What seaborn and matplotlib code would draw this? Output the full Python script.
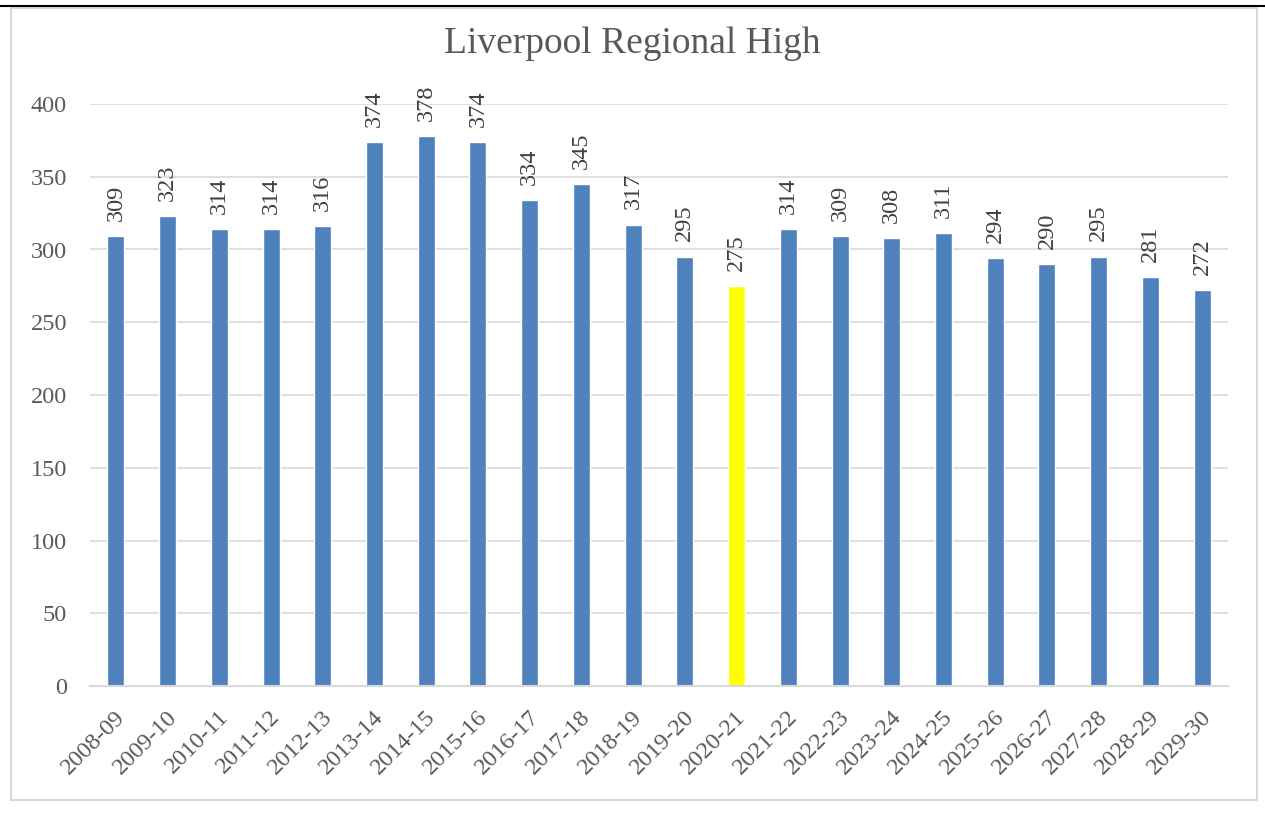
import matplotlib
matplotlib.use('Agg')
import matplotlib.pyplot as plt
import matplotlib.transforms as mtransforms
import pandas as pd
import seaborn as sns
from matplotlib.patches import Rectangle
from matplotlib.lines import Line2D

# chart data
years = ['2008-09', '2009-10', '2010-11', '2011-12', '2012-13', '2013-14',
         '2014-15', '2015-16', '2016-17', '2017-18', '2018-19', '2019-20',
         '2020-21', '2021-22', '2022-23', '2023-24', '2024-25', '2025-26',
         '2026-27', '2027-28', '2028-29', '2029-30']
values = [309, 323, 314, 314, 316, 374, 378, 374, 334, 345, 317, 295,
          275, 314, 309, 308, 311, 294, 290, 295, 281, 272]
highlight_year = '2020-21'

sns.set_theme(style='white')
plt.rcParams['font.family'] = ['Liberation Serif', 'DejaVu Serif']

df = pd.DataFrame({'year': years, 'value': values})
palette = {y: ('#FFFF00' if y == highlight_year else '#4F81BD') for y in years}

fig = plt.figure(figsize=(12.65, 8.21), dpi=100)
ax = fig.add_axes([90 / 1265, 1 - 686 / 821, 1138 / 1265, 582 / 821])

sns.barplot(data=df, x='year', y='value', hue='year', palette=palette,
            width=0.33, saturation=1, legend=False, ax=ax)

ax.set_ylim(0, 400)
ax.set_xlim(-0.5, len(years) - 0.5)
ax.set_yticks(range(0, 401, 50))
ax.yaxis.grid(True, color='#D9D9D9', linewidth=1.2)
ax.set_axisbelow(True)
for side in ['top', 'right', 'left']:
    ax.spines[side].set_visible(False)
ax.spines['bottom'].set_color('#D9D9D9')
ax.spines['bottom'].set_linewidth(1.5)
ax.set_xlabel('')
ax.set_ylabel('')
ax.tick_params(axis='y', length=0, pad=16.5, labelsize=17.5,
               labelcolor='#595959')
ax.tick_params(axis='x', length=0, pad=20, labelsize=17.5,
               labelcolor='#595959')
shift = mtransforms.ScaledTranslation(6 / 100, 0, fig.dpi_scale_trans)
for lbl in ax.get_xticklabels():
    lbl.set_rotation(45)
    lbl.set_ha('right')
    lbl.set_va('center')
    lbl.set_rotation_mode('anchor')
    lbl.set_transform(lbl.get_transform() + shift)

for i, v in enumerate(values):
    ax.annotate(str(v), (i, v), xytext=(0, 11), textcoords='offset points',
                rotation=90, ha='center', va='bottom', fontsize=17.5,
                color='#404040')

fig.text(0.5, 1 - 44 / 821, 'Liverpool Regional High', ha='center',
         va='center', fontsize=27, color='#595959')

# chart border and top rule
fig.patches.append(Rectangle((11 / 1265, 1 - 800 / 821), 1246 / 1265,
                             792 / 821, transform=fig.transFigure,
                             fill=False, edgecolor='#D9D9D9', linewidth=1.5))
fig.lines.append(Line2D([0, 1], [1 - 6.5 / 821, 1 - 6.5 / 821],
                        transform=fig.transFigure, color='black',
                        linewidth=1.5))

plt.savefig('out.png', dpi=100)
